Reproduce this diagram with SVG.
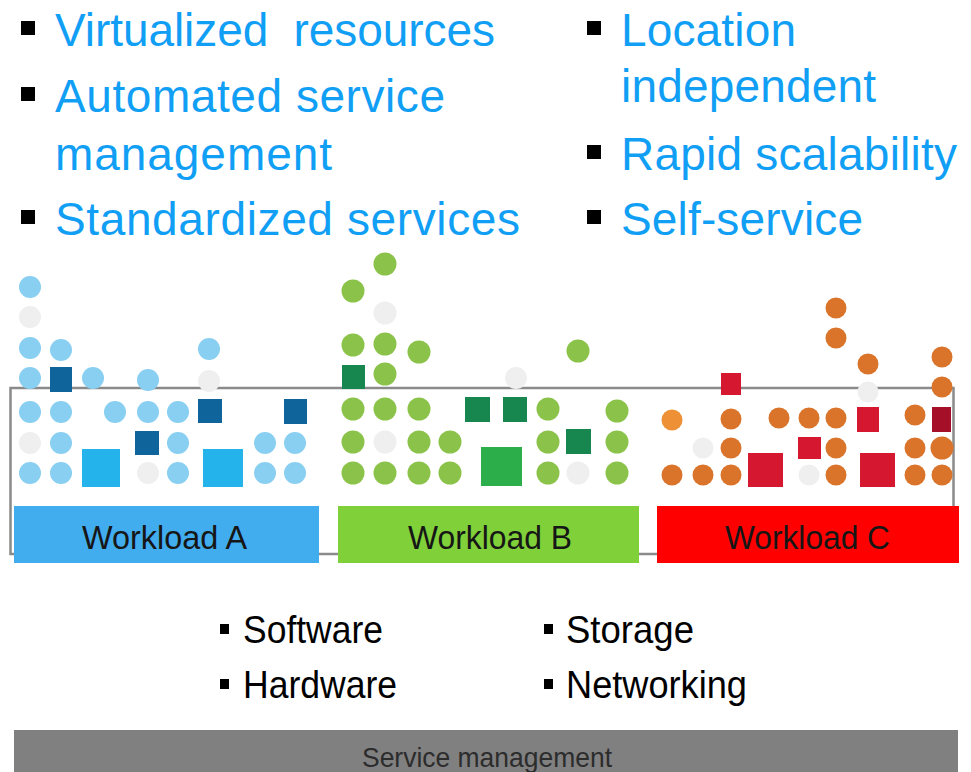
<svg xmlns="http://www.w3.org/2000/svg" width="971" height="772" viewBox="0 0 971 772">
<style>
.hd{font-family:"Liberation Sans",Arial,sans-serif;font-size:46px;fill:#119ff5}
.sm{font-family:"Liberation Sans",Arial,sans-serif;font-size:39px;fill:#000}
.wl{font-family:"Liberation Sans",Arial,sans-serif;font-size:33px;fill:#161616;text-anchor:middle}
.sv{font-family:"Liberation Sans",Arial,sans-serif;font-size:28px;fill:#2c2c2c;text-anchor:middle}
.bl{fill:#000}
.cb{fill:#89cff1}.cw{fill:#efefef}.sb{fill:#0f659b}.bb{fill:#24b4eb}
.cg{fill:#8bc34a}.sg{fill:#17874f}.bg{fill:#2cae4b}
.co{fill:#da742a}.cl{fill:#ee9035}.sr{fill:#d5182f}.sd{fill:#a50f28}
</style>
<rect width="971" height="772" fill="#fff"/>

<g id="features">
<rect class="bl" x="21" y="21" width="14" height="14"/>
<text class="hd" x="55" y="46" textLength="440" xml:space="preserve">Virtualized  resources</text>
<rect class="bl" x="21" y="87" width="14" height="14"/>
<text class="hd" x="55" y="112" textLength="390">Automated service</text>
<text class="hd" x="55" y="170" textLength="277">management</text>
<rect class="bl" x="21" y="210" width="14" height="14"/>
<text class="hd" x="55" y="235" textLength="465">Standardized services</text>
<rect class="bl" x="587" y="21" width="14" height="14"/>
<text class="hd" x="621" y="46" textLength="175">Location</text>
<text class="hd" x="621" y="102" textLength="255">independent</text>
<rect class="bl" x="587" y="145" width="14" height="14"/>
<text class="hd" x="621" y="170" textLength="336">Rapid scalability</text>
<rect class="bl" x="587" y="210" width="14" height="14"/>
<text class="hd" x="621" y="235" textLength="242">Self-service</text>
</g>

<g id="frame">
<rect x="10.5" y="388" width="943" height="166" fill="none" stroke="#8a8a8a" stroke-width="2.5"/>
</g>

<g id="workload-a-dots">
<circle class="cb" cx="30" cy="287" r="11"/>
<circle class="cw" cx="30" cy="317" r="11"/>
<circle class="cb" cx="30" cy="348" r="11"/>
<circle class="cb" cx="30" cy="378" r="11"/>
<circle class="cb" cx="30" cy="412" r="11"/>
<circle class="cw" cx="30" cy="443" r="11"/>
<circle class="cb" cx="30" cy="473" r="11"/>
<circle class="cb" cx="61" cy="350" r="11"/>
<rect class="sb" x="50" y="367" width="22" height="25"/>
<circle class="cb" cx="61" cy="412" r="11"/>
<circle class="cb" cx="61" cy="443" r="11"/>
<circle class="cb" cx="61" cy="473" r="11"/>
<circle class="cb" cx="93" cy="378" r="11"/>
<rect class="bb" x="82" y="449" width="38" height="38"/>
<circle class="cb" cx="115" cy="412" r="11"/>
<circle class="cb" cx="148" cy="380" r="11"/>
<circle class="cb" cx="148" cy="412" r="11"/>
<rect class="sb" x="135" y="431" width="24" height="24"/>
<circle class="cw" cx="148" cy="473" r="11"/>
<circle class="cb" cx="178" cy="412" r="11"/>
<circle class="cb" cx="178" cy="443" r="11"/>
<circle class="cb" cx="178" cy="473" r="11"/>
<circle class="cb" cx="209" cy="349" r="11"/>
<circle class="cw" cx="209" cy="381" r="11"/>
<rect class="sb" x="198" y="399" width="24" height="24"/>
<rect class="bb" x="203" y="449" width="40" height="38"/>
<circle class="cb" cx="265" cy="443" r="11"/>
<circle class="cb" cx="265" cy="473" r="11"/>
<rect class="sb" x="284" y="399" width="23" height="25"/>
<circle class="cb" cx="295" cy="443" r="11"/>
<circle class="cb" cx="295" cy="473" r="11"/>
</g>

<g id="workload-b-dots">
<circle class="cg" cx="353" cy="291" r="11.5"/>
<circle class="cg" cx="353" cy="345" r="11.5"/>
<rect class="sg" x="342" y="365" width="23" height="24"/>
<circle class="cg" cx="353" cy="409" r="11.5"/>
<circle class="cg" cx="353" cy="442" r="11.5"/>
<circle class="cg" cx="353" cy="473" r="11.5"/>
<circle class="cg" cx="385" cy="264" r="11.5"/>
<circle class="cw" cx="385" cy="313" r="11.5"/>
<circle class="cg" cx="385" cy="344" r="11.5"/>
<circle class="cg" cx="385" cy="374" r="11.5"/>
<circle class="cg" cx="385" cy="409" r="11.5"/>
<circle class="cw" cx="385" cy="442" r="11.5"/>
<circle class="cg" cx="385" cy="473" r="11.5"/>
<circle class="cg" cx="419" cy="352" r="11.5"/>
<circle class="cg" cx="419" cy="409" r="11.5"/>
<circle class="cg" cx="419" cy="442" r="11.5"/>
<circle class="cg" cx="419" cy="473" r="11.5"/>
<circle class="cg" cx="450" cy="442" r="11.5"/>
<circle class="cg" cx="450" cy="473" r="11.5"/>
<rect class="sg" x="465" y="397" width="25" height="25"/>
<rect class="sg" x="503" y="397" width="24" height="25"/>
<circle class="cw" cx="516" cy="378" r="11"/>
<rect class="bg" x="481" y="447" width="41" height="39"/>
<circle class="cg" cx="548" cy="409" r="11.5"/>
<circle class="cg" cx="548" cy="442" r="11.5"/>
<circle class="cg" cx="548" cy="473" r="11.5"/>
<circle class="cg" cx="578" cy="351" r="11.5"/>
<rect class="sg" x="566" y="429" width="25" height="25"/>
<circle class="cw" cx="578" cy="473" r="11.5"/>
<circle class="cg" cx="617" cy="411" r="11.5"/>
<circle class="cg" cx="617" cy="442" r="11.5"/>
<circle class="cg" cx="617" cy="473" r="11.5"/>
</g>

<g id="workload-c-dots">
<circle class="cl" cx="672" cy="420" r="10.5"/>
<circle class="co" cx="672" cy="475" r="10.5"/>
<circle class="cw" cx="703" cy="448" r="10.5"/>
<circle class="co" cx="703" cy="475" r="10.5"/>
<rect class="sr" x="721" y="373" width="20" height="22"/>
<circle class="co" cx="731" cy="419" r="10.5"/>
<circle class="co" cx="731" cy="448" r="10.5"/>
<circle class="co" cx="731" cy="475" r="10.5"/>
<rect class="sr" x="748" y="453" width="35" height="34"/>
<circle class="co" cx="779" cy="418" r="10.5"/>
<circle class="co" cx="809" cy="418" r="10.5"/>
<rect class="sr" x="798" y="437" width="23" height="22"/>
<circle class="cw" cx="809" cy="475" r="10.5"/>
<circle class="co" cx="836" cy="308" r="10.5"/>
<circle class="co" cx="836" cy="338" r="10.5"/>
<circle class="co" cx="836" cy="418" r="10.5"/>
<circle class="co" cx="836" cy="448" r="10.5"/>
<circle class="co" cx="836" cy="475" r="10.5"/>
<circle class="co" cx="868" cy="364" r="10.5"/>
<circle class="cw" cx="868" cy="392" r="10.5"/>
<rect class="sr" x="857" y="407" width="22" height="25"/>
<rect class="sr" x="860" y="453" width="35" height="34"/>
<circle class="co" cx="915" cy="415" r="10.5"/>
<circle class="co" cx="915" cy="448" r="10.5"/>
<circle class="co" cx="915" cy="475" r="10.5"/>
<circle class="co" cx="942" cy="357" r="10.5"/>
<circle class="co" cx="942" cy="387" r="10.5"/>
<rect class="sd" x="932" y="407" width="19" height="25"/>
<circle class="co" cx="942" cy="448" r="11.5"/>
<circle class="co" cx="942" cy="475" r="10.5"/>
</g>

<g id="workload-a">
<rect x="14" y="506" width="305" height="57" fill="#41acee"/>
<text class="wl" x="164.5" y="549" textLength="165" lengthAdjust="spacingAndGlyphs">Workload A</text>
</g>
<g id="workload-b">
<rect x="338" y="506" width="301" height="57" fill="#80d03a"/>
<text class="wl" x="490" y="549" textLength="164" lengthAdjust="spacingAndGlyphs">Workload B</text>
</g>
<g id="workload-c">
<rect x="657" y="506" width="302" height="57" fill="#ff0000"/>
<text class="wl" x="807.5" y="549" textLength="165" lengthAdjust="spacingAndGlyphs">Workload C</text>
</g>

<g id="resources">
<rect class="bl" x="220" y="624" width="9" height="10"/>
<text class="sm" x="243" y="643" textLength="140" lengthAdjust="spacingAndGlyphs">Software</text>
<rect class="bl" x="220" y="679" width="9" height="10"/>
<text class="sm" x="243" y="698" textLength="154" lengthAdjust="spacingAndGlyphs">Hardware</text>
<rect class="bl" x="544" y="624" width="9" height="10"/>
<text class="sm" x="566" y="643" textLength="128" lengthAdjust="spacingAndGlyphs">Storage</text>
<rect class="bl" x="544" y="679" width="9" height="10"/>
<text class="sm" x="566" y="698" textLength="181" lengthAdjust="spacingAndGlyphs">Networking</text>
</g>

<g id="service-management">
<rect x="14" y="730" width="944" height="42" fill="#808080"/>
<text class="sv" x="487" y="767" textLength="250" lengthAdjust="spacingAndGlyphs">Service management</text>
</g>
</svg>
